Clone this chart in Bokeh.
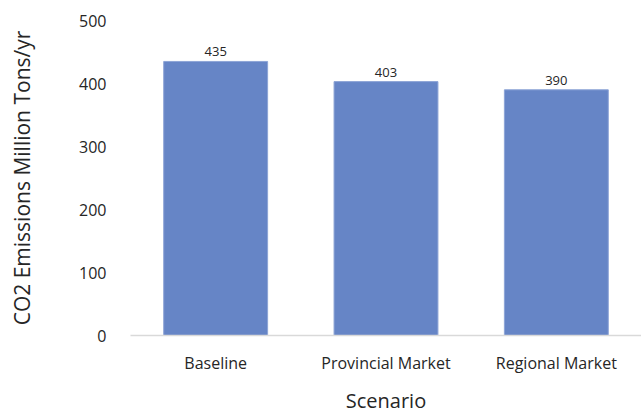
from bokeh.plotting import figure
from bokeh.models import ColumnDataSource, FactorRange, Range1d, LabelSet
from bokeh.core.properties import value
from bokeh.embed import file_html
from bokeh.resources import INLINE

scenarios = ["Baseline", "Provincial Market", "Regional Market"]
emissions = [435, 403, 390]
y_ticks = [0, 100, 200, 300, 400, 500]

FONT = "Open Sans"
BAR = "#6685C6"
TEXT = "#262626"

src = ColumnDataSource(dict(
    x=scenarios,
    y=emissions,
    lab=[str(v) for v in emissions],
))

p = figure(
    width=641, height=416,
    x_range=FactorRange(*scenarios, range_padding=0),
    y_range=Range1d(0, 500),
    output_backend="svg", toolbar_location=None,
    min_border_left=130, min_border_right=0,
    min_border_top=20, min_border_bottom=80,
)
p.outline_line_color = None
p.background_fill_color = "white"
p.border_fill_color = "white"

p.vbar(x="x", top="y", width=0.61, source=src,
       fill_color=BAR, line_color="#8DA4D6", line_width=1)

labels = LabelSet(x="x", y="y", text="lab", source=src,
                  text_align="center", text_baseline="bottom", y_offset=5,
                  text_font=value(FONT), text_font_size="13px",
                  text_color=TEXT)
p.add_layout(labels)

p.xgrid.grid_line_color = None
p.ygrid.grid_line_color = None

p.yaxis.ticker = y_ticks
p.yaxis.axis_line_color = None
p.yaxis.major_tick_line_color = None
p.yaxis.minor_tick_line_color = None
p.yaxis.major_label_standoff = 18
p.yaxis.major_label_text_font = FONT
p.yaxis.major_label_text_font_size = "16px"
p.yaxis.major_label_text_color = TEXT
p.yaxis.axis_label = "CO2 Emissions Million Tons/yr"
p.yaxis.axis_label_text_font = FONT
p.yaxis.axis_label_text_font_size = "21px"
p.yaxis.axis_label_text_font_style = "normal"
p.yaxis.axis_label_text_color = TEXT
p.yaxis.axis_label_standoff = 40

p.xaxis.axis_line_color = "#D9D9D9"
p.xaxis.axis_line_width = 1.5
p.xaxis.major_tick_line_color = None
p.xaxis.minor_tick_line_color = None
p.xaxis.major_label_standoff = 10
p.xaxis.major_label_text_font = FONT
p.xaxis.major_label_text_font_size = "16px"
p.xaxis.major_label_text_color = TEXT
p.xaxis.axis_label = "Scenario"
p.xaxis.axis_label_text_font = FONT
p.xaxis.axis_label_text_font_size = "20px"
p.xaxis.axis_label_text_font_style = "normal"
p.xaxis.axis_label_text_color = TEXT
p.xaxis.axis_label_standoff = 10

open("out.html", "w").write(file_html(p, INLINE))
